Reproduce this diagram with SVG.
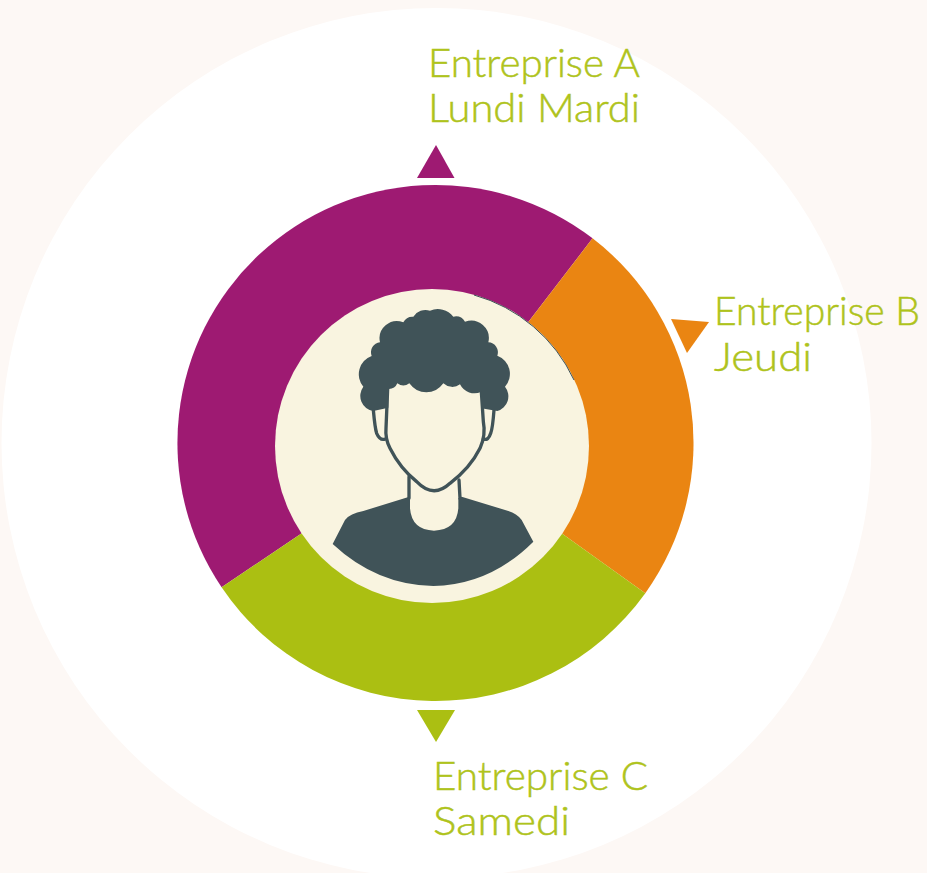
<svg xmlns="http://www.w3.org/2000/svg" width="927" height="873" viewBox="0 0 927 873">
<style>
.lbl{font-family:"Lato","Noto Sans","Liberation Sans",sans-serif;font-size:39.500px;font-weight:300;fill:#afc31c;stroke:#afc31c;stroke-width:.5px}
.dk{fill:#405358}
.ln{fill:none;stroke:#405358;stroke-width:10;stroke-linecap:round;stroke-linejoin:round}
</style>
<rect width="927" height="873" fill="#fdf8f5"/>
<circle cx="436.5" cy="443" r="435" fill="#fff"/>
<g id="ring">
<path d="M435.5 443L221.600 587.300A258 258 0 0 1 592.550 238.300Z" fill="#9e1a72"/>
<path d="M435.500 443L592.550 238.300A258 258 0 0 1 645.300 593.200Z" fill="#ea8512"/>
<path d="M435.500 443L645.300 593.200A258 258 0 0 1 221.600 587.300Z" fill="#abbf12"/>
</g>
<g id="center">
<circle cx="432" cy="446" r="157" fill="#f9f4e0"/>
<path d="M474 295A157 157 0 0 1 574 380" fill="none" stroke="#405358" stroke-width="1"/>
<g transform="translate(320 295) scale(.33333)">
<path class="ln" d="M203 280L198 400Q195 430 210 460Q240 520 290 560Q340 612 390 565Q450 520 480 460Q498 420 490 380L484 290"/>
<path class="ln" d="M160 345Q165 400 170 415Q180 438 196 432M522 345Q518 400 512 415Q505 438 490 432M267 545V610M417 555L420 610"/>
<path class="dk" d="M268 605L130 648Q90 655 75 675L38 747Q170 870 340 873Q510 870 640 740L605 675Q590 655 565 648L425 605L415 610V640Q410 705 342 707Q275 705 270 640V605Z"/>
<path class="dk" d="M160 348A46 46 0 0 1 130 275A58 58 0 0 1 155 183A30 30 0 0 1 180 142A52 52 0 0 1 250 82A31 31 0 0 1 280 65A43 43 0 0 1 330 47A60 60 0 0 1 400 65A33 33 0 0 1 435 80A53 53 0 0 1 505 142A30 30 0 0 1 532 182A58 58 0 0 1 555 275A46 46 0 0 1 532 348L484 340V290A48 48 0 0 1 420 268A39 39 0 0 1 370 265A62 62 0 0 1 268 265A30 30 0 0 1 232 265A28 28 0 0 1 205 282V338Z"/>
</g>
</g>
<g id="entreprise-a">
<path d="M436 145L417 178H454.500Z" fill="#9e1a72"/>
<text class="lbl" x="428" y="77" textLength="212" lengthAdjust="spacingAndGlyphs">Entreprise A</text>
<text class="lbl" x="428" y="122" textLength="212" lengthAdjust="spacingAndGlyphs">Lundi Mardi</text>
</g>
<g id="entreprise-b">
<path d="M671 319L709 322L687 353Z" fill="#ea8512"/>
<text class="lbl" x="714" y="325" textLength="206" lengthAdjust="spacingAndGlyphs">Entreprise B</text>
<text class="lbl" x="714" y="371" textLength="98" lengthAdjust="spacingAndGlyphs">Jeudi</text>
</g>
<g id="entreprise-c">
<path d="M417 710H455L436 742Z" fill="#abbf12"/>
<text class="lbl" x="433" y="790" textLength="215" lengthAdjust="spacingAndGlyphs">Entreprise C</text>
<text class="lbl" x="433" y="835" textLength="137" lengthAdjust="spacingAndGlyphs">Samedi</text>
</g>
</svg>
